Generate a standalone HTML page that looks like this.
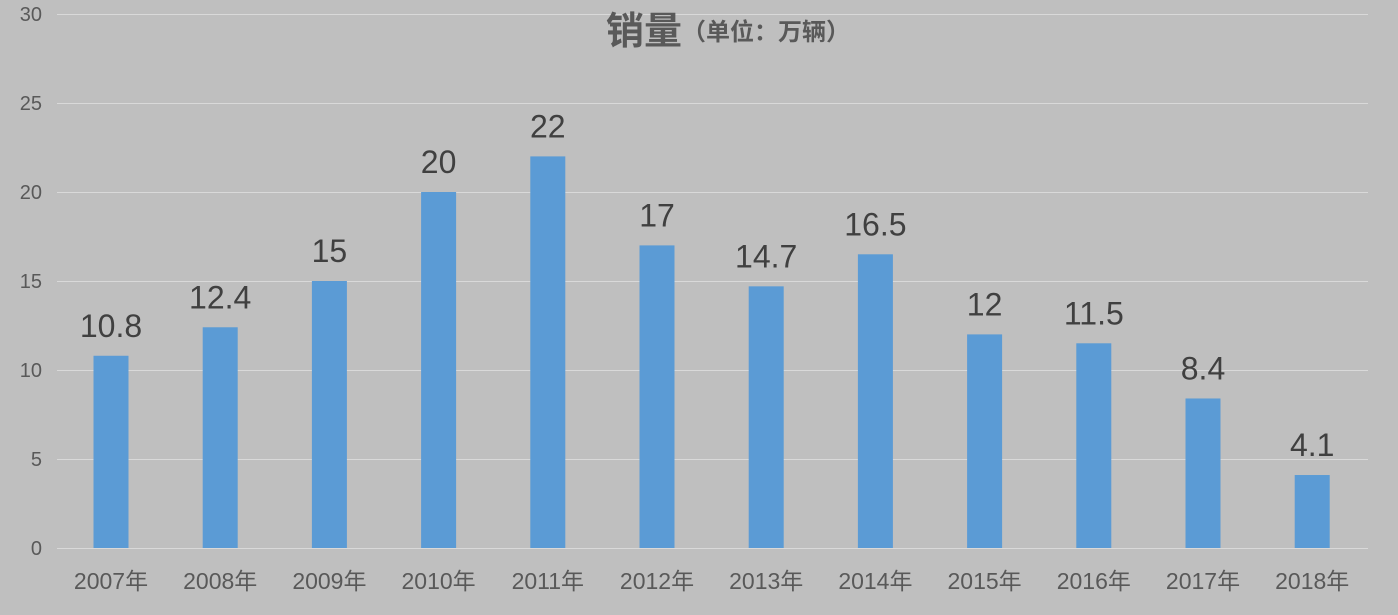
<!DOCTYPE html>
<html><head><meta charset="utf-8"><style>
body{margin:0;background:#bfbfbf;}
svg{display:block;font-family:"Liberation Sans","Noto Sans CJK SC",sans-serif;}
</style></head><body>
<svg width="1398" height="615" xmlns="http://www.w3.org/2000/svg">
<rect width="1398" height="615" fill="#bfbfbf"/>
<g stroke="#d9d9d9" stroke-width="1">
<line x1="57" x2="1368" y1="14.5" y2="14.5"/>
<line x1="57" x2="1368" y1="103.5" y2="103.5"/>
<line x1="57" x2="1368" y1="192.5" y2="192.5"/>
<line x1="57" x2="1368" y1="281.5" y2="281.5"/>
<line x1="57" x2="1368" y1="370.5" y2="370.5"/>
<line x1="57" x2="1368" y1="459.5" y2="459.5"/>
<line x1="57" x2="1368" y1="548.5" y2="548.5"/>
</g>
<g fill="#595959" font-size="20" text-anchor="end">
<text x="42" y="21">30</text><text x="42" y="110">25</text><text x="42" y="199">20</text>
<text x="42" y="288">15</text><text x="42" y="377">10</text><text x="42" y="466">5</text><text x="42" y="555">0</text>
</g>
<text x="606" y="44" fill="#595959" font-size="38" font-weight="bold">销量<tspan font-size="24" dy="-4">（单位：万辆）</tspan></text>
<g id="bars" fill="#5b9bd5"></g>
<g id="lbl" fill="#404040" font-size="32" text-anchor="middle"></g>
<g id="xl" fill="#595959" font-size="23" text-anchor="middle"></g>
<script>
var v=[10.8,12.4,15,20,22,17,14.7,16.5,12,11.5,8.4,4.1];
var b=document.getElementById('bars'),l=document.getElementById('lbl'),x=document.getElementById('xl');
var ns='http://www.w3.org/2000/svg';
v.forEach(function(d,i){
 var c=111+i*109.2, y=548-d*17.8;
 var r=document.createElementNS(ns,'rect');
 r.setAttribute('x',c-17.5);r.setAttribute('y',y);r.setAttribute('width',35);r.setAttribute('height',548-y);b.appendChild(r);
 var t=document.createElementNS(ns,'text');t.setAttribute('x',c);t.setAttribute('y',y-19);t.textContent=String(d);l.appendChild(t);
 var u=document.createElementNS(ns,'text');u.setAttribute('x',c);u.setAttribute('y',589);u.textContent=(2007+i)+'年';x.appendChild(u);
});
</script>
</svg>
</body></html>
